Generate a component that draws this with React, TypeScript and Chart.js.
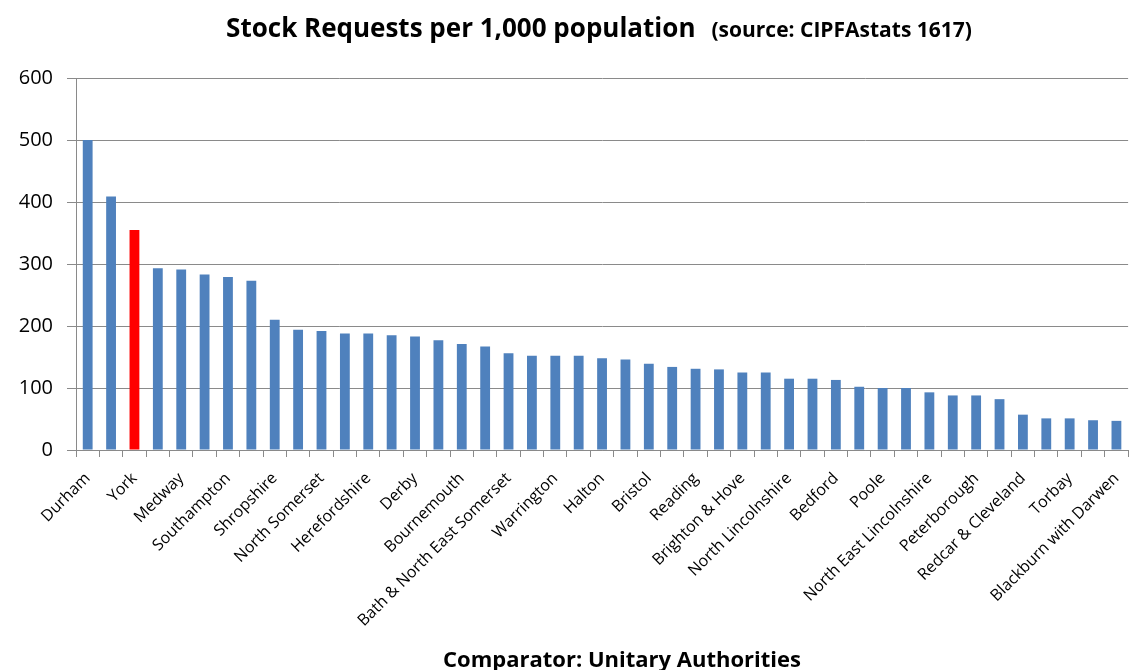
import React, { useEffect, useRef } from 'react';
import { Chart, registerables } from 'chart.js';

Chart.register(...registerables);

// Every other category is labelled in the source chart; unlabelled ones are left blank.
const categories: string[] = [
  'Durham', '', 'York', '', 'Medway', '', 'Southampton', '', 'Shropshire', '',
  'North Somerset', '', 'Herefordshire', '', 'Derby', '', 'Bournemouth', '',
  'Bath & North East Somerset', '', 'Warrington', '', 'Halton', '', 'Bristol', '',
  'Reading', '', 'Brighton & Hove', '', 'North Lincolnshire', '', 'Bedford', '',
  'Poole', '', 'North East Lincolnshire', '', 'Peterborough', '',
  'Redcar & Cleveland', '', 'Torbay', '', 'Blackburn with Darwen',
];

const requestsPer1000: number[] = [
  500, 409, 355, 293, 291, 283, 279, 273, 210, 194,
  192, 188, 188, 185, 183, 177, 171, 167, 156, 152,
  152, 152, 148, 146, 139, 134, 131, 130, 125, 125,
  115, 115, 113, 102, 100, 100, 93, 88, 88, 82,
  57, 51, 51, 48, 47,
];

const highlightCategory = 'York';
const yTicks: number[] = [0, 100, 200, 300, 400, 500, 600];

const titleMain = 'Stock Requests per 1,000 population';
const titleSource = '(source: CIPFAstats 1617)';
const xAxisTitle = 'Comparator: Unitary Authorities';

const BLUE = '#4F81BD';
const RED = '#FF0000';
const GRID = '#8A8A8A';
const FONT = '"Open Sans", "Noto Sans", sans-serif';

const titlesPlugin = {
  id: 'customTitles',
  afterDraw(chart: any) {
    const ctx = chart.ctx as CanvasRenderingContext2D;
    ctx.save();
    ctx.fillStyle = '#000';
    ctx.textBaseline = 'alphabetic';
    ctx.textAlign = 'left';
    const mainFont = `bold 26px ${FONT}`;
    const srcFont = `bold 21px ${FONT}`;
    ctx.font = mainFont;
    const w1 = ctx.measureText(titleMain).width;
    ctx.font = srcFont;
    const w2 = ctx.measureText(titleSource).width;
    const gap = 16;
    let x = 599 - (w1 + gap + w2) / 2;
    ctx.font = mainFont;
    ctx.fillText(titleMain, x, 37);
    x += w1 + gap;
    ctx.font = srcFont;
    ctx.fillText(titleSource, x, 37);

    ctx.font = `bold 22px ${FONT}`;
    ctx.textAlign = 'center';
    ctx.fillText(xAxisTitle, 622, 667);
    ctx.restore();
  },
};

export default function App() {
  const canvasRef = useRef<HTMLCanvasElement | null>(null);

  useEffect(() => {
    if (!canvasRef.current) return;
    const colors = categories.map((c) => (c === highlightCategory ? RED : BLUE));
    const chart = new Chart(canvasRef.current, {
      type: 'bar',
      data: {
        labels: categories,
        datasets: [
          {
            data: requestsPer1000,
            backgroundColor: colors,
            borderWidth: 0,
            barPercentage: 0.42,
            categoryPercentage: 1,
          },
        ],
      },
      options: {
        animation: false,
        responsive: false,
        events: [],
        layout: { padding: { top: 78, left: 0, right: 0, bottom: 0 } },
        plugins: {
          legend: { display: false },
          title: { display: false },
          tooltip: { enabled: false },
        },
        scales: {
          x: {
            type: 'category',
            afterFit: (scale: any) => {
              scale.height = 220;
            },
            grid: {
              display: true,
              drawOnChartArea: false,
              drawTicks: true,
              tickLength: 7,
              offset: true,
              color: GRID,
            },
            border: { display: true, color: GRID },
            ticks: {
              autoSkip: false,
              maxRotation: 45,
              minRotation: 45,
              padding: 12,
              color: '#000',
              font: { family: FONT, size: 16 },
            },
          },
          y: {
            min: 0,
            max: 600,
            afterFit: (scale: any) => {
              scale.width = 76;
            },
            afterBuildTicks: (scale: any) => {
              scale.ticks = yTicks.map((v) => ({ value: v }));
            },
            grid: {
              color: GRID,
              tickLength: 9,
              drawTicks: true,
            },
            border: { display: true, color: GRID },
            ticks: {
              padding: 14,
              color: '#000',
              font: { family: FONT, size: 20 },
            },
          },
        },
      },
      plugins: [titlesPlugin],
    });
    return () => chart.destroy();
  }, []);

  return (
    <div style={{ position: 'fixed', left: 0, top: 0, width: 1142, height: 670, background: '#fff' }}>
      <canvas ref={canvasRef} width={1142} height={670} />
    </div>
  );
}
